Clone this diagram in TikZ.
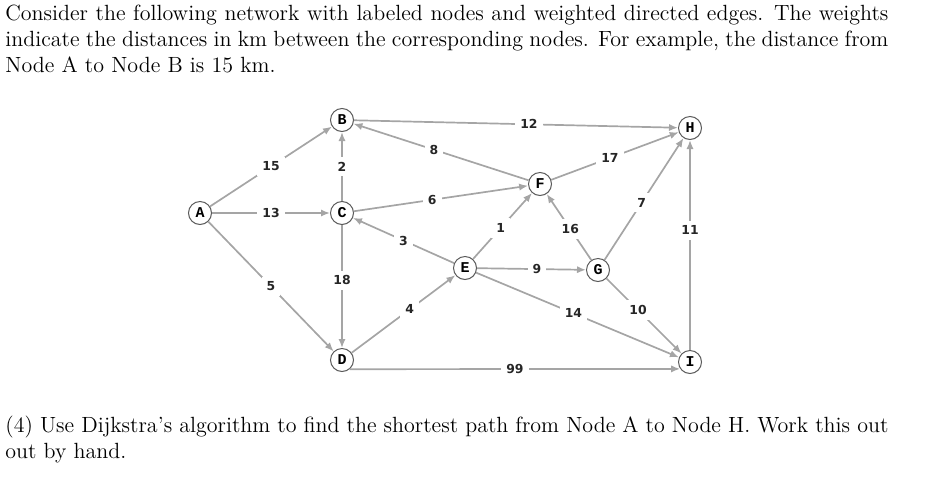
\documentclass[tikz,border=0pt]{standalone}
\usepackage{fontspec}
\usepackage{tikz}
\usetikzlibrary{arrows.meta}
\newfontfamily\nodefont{Liberation Mono}
\newfontfamily\wtfont{DejaVu Sans}
\definecolor{edgegray}{RGB}{165,165,165}
\definecolor{ringgray}{RGB}{90,90,90}

\begin{document}
\begin{tikzpicture}[
    x=0.5pt, y=-0.5pt,
    vtx/.style={circle, draw=ringgray, line width=0.5pt, fill=white, minimum size=11.5pt, inner sep=0pt, font=\nodefont\bfseries\fontsize{7.5}{8}\selectfont},
    wt/.style={fill=white, inner sep=2.5pt, font=\wtfont\bfseries\fontsize{6.2}{7}\selectfont, text=black!85},
    road/.style={-{Latex[length=4.5pt, width=3.6pt]}, edgegray, line width=0.85pt},
    para/.style={anchor=base west, text width=441.5pt, align=justify, inner sep=0pt, font=\fontsize{11}{13}\selectfont}
]
\useasboundingbox (0,0) rectangle (930,483);

% Question text
\node[para] (intro) at (5,20) {Consider the following network with labeled nodes and weighted directed edges. The weights\linebreak indicate the distances in km between the corresponding nodes. For example, the distance from\linebreak Node A to Node B is 15 km.};
\node[para] (task) at (5,432) {(4) Use Dijkstra's algorithm to find the shortest path from Node A to Node H. Work this out\linebreak out by hand.};

% Nodes
\node[vtx] (A) at (200,213) {A};
\node[vtx] (B) at (342,120) {B};
\node[vtx] (C) at (342,213) {C};
\node[vtx] (D) at (342,360) {D};
\node[vtx] (E) at (465,268) {E};
\node[vtx] (F) at (540,184) {F};
\node[vtx] (G) at (598,270) {G};
\node[vtx] (H) at (690,128) {H};
\node[vtx] (I) at (690,362) {I};

% Weighted edges
\draw[road] (A) -- node[wt, pos=0.5] (wAB) {15} (B);
\draw[road] (A) -- node[wt, pos=0.5] (wAC) {13} (C);
\draw[road] (A) -- node[wt, pos=0.5] (wAD) {5} (D);
\draw[road] (C) -- node[wt, pos=0.5] (wCB) {2} (B);
\draw[road] (C) -- node[wt, pos=0.45] (wCD) {18} (D);
\draw[road] (E) -- node[wt, pos=0.5] (wEC) {3} (C);
\draw[road] (C) -- node[wt, pos=0.45] (wCF) {6} (F);
\draw[road] (F) -- node[wt, pos=0.54] (wFB) {8} (B);
\draw[road] (B) -- node[wt, pos=0.54] (wBH) {12} (H);
\draw[road] (F) -- node[wt, pos=0.46] (wFH) {17} (H);
\draw[road] (E) -- node[wt, pos=0.47] (wEF) {1} (F);
\draw[road] (G) -- node[wt, pos=0.47] (wGF) {16} (F);
\draw[road] (G) -- node[wt, pos=0.47] (wGH) {7} (H);
\draw[road] (I) -- node[wt, pos=0.57] (wIH) {11} (H);
\draw[road] (D) -- node[wt, pos=0.56] (wDE) {4} (E);
\draw[road] (E) -- node[wt, pos=0.55] (wEG) {9} (G);
\draw[road] (E) -- node[wt, pos=0.48] (wEI) {14} (I);
\draw[road] (G) -- node[wt, pos=0.42] (wGI) {10} (I);
\draw[road] (D.-50) -- node[wt, pos=0.5] (wDI) {99} (I.-145);
\end{tikzpicture}
\end{document}
